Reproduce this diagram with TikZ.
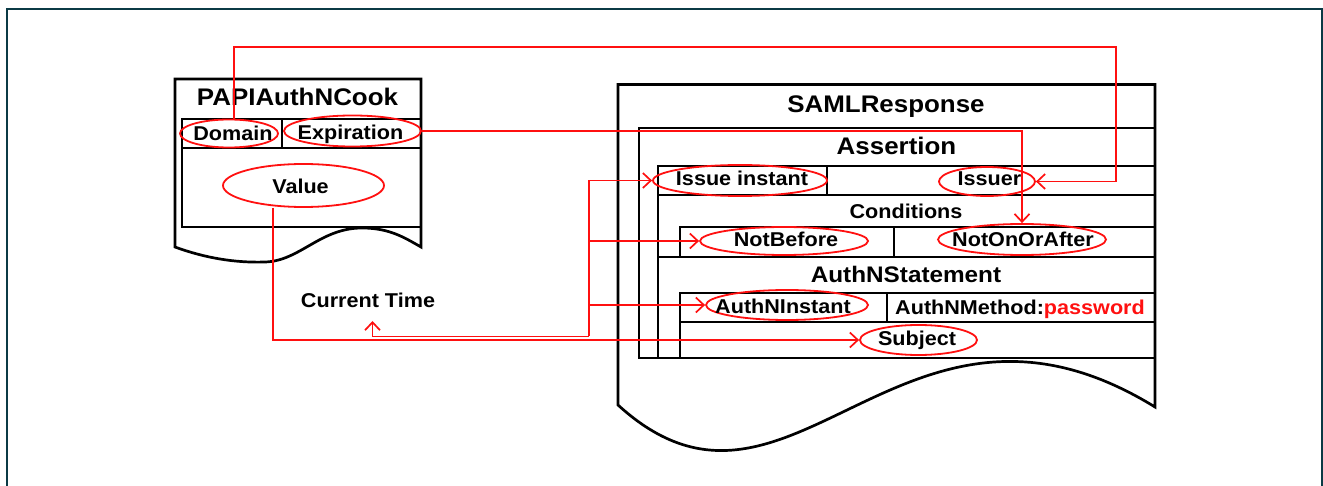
\documentclass[tikz,border=0pt]{standalone}
\usepackage{fontspec}
\setmainfont{Liberation Sans}[FakeStretch=1.08]
\usetikzlibrary{arrows.meta,shapes.geometric,calc}
\definecolor{framec}{HTML}{0B3A45}
\definecolor{lred}{HTML}{FF1010}
\newcommand\myfs[1]{\fontsize{#1}{#1}\selectfont\bfseries}
\tikzset{
  box/.style={line width=2.7pt, draw=black, line join=miter},
  oval/.style={ellipse, draw=lred, line width=1.8pt, inner sep=0pt},
  lbl/.style={font=\myfs{20}, inner sep=0pt, text height=14pt, text depth=0pt},
  ttl/.style={font=\myfs{24}, inner sep=0pt, text height=17pt, text depth=0pt},
  link/.style={draw=lred, line width=1.7pt},
  tipline/.style={link, -{Straight Barb[length=8pt,width=15pt]}},
}
\begin{document}
\begin{tikzpicture}[x=1pt,y=-1pt]
\useasboundingbox (0,0) rectangle (1323,486);
\draw[framec, line width=2pt] (7,486) -- (7,9.5) -- (1321.5,9.5) -- (1321.5,486);

% PAPIAuthNCook document
\draw[box] (175,247) -- (175,79) -- (421,79) -- (421,247)
  .. controls (405,238) and (390,228) .. (362,228)
  .. controls (320,228) and (300,261) .. (265,262)
  .. controls (235,263) and (205,258) .. (175,247) -- cycle;
\draw[box] (182,119) rectangle (421,227);
\draw[box] (182,148) -- (421,148);
\draw[box] (282,119) -- (282,148);

% SAMLResponse document
\draw[box] (618,405) -- (618,84.5) -- (1155,84.5) -- (1155,407)
  .. controls (900,250) and (790,562) .. (618,405) -- cycle;
\draw[box] (639,128) rectangle (1155,358);
\draw[box] (658,166) rectangle (1155,195);
\draw[box] (827,166) -- (827,195);
\draw[box] (658,195) rectangle (1155,257);
\draw[box] (680,227) rectangle (1155,257);
\draw[box] (894,227) -- (894,257);
\draw[box] (658,257) rectangle (1155,358);
\draw[box] (680,293) rectangle (1155,322);
\draw[box] (887,293) -- (887,322);
\draw[box] (680,322) rectangle (1155,358);

% ellipses
\node[oval, minimum width=98pt,  minimum height=28pt] (dom)  at (229,133.5) {};
\node[oval, minimum width=137pt, minimum height=31pt] (exp)  at (352.5,131) {};
\node[oval, minimum width=161pt, minimum height=43pt] (val)  at (303.5,185.5) {};
\node[oval, minimum width=174pt, minimum height=31pt] (ii)   at (740,180.5) {};
\node[oval, minimum width=96pt,  minimum height=29pt] (iss)  at (987,181.5) {};
\node[oval, minimum width=168pt, minimum height=28pt] (nb)   at (784,241) {};
\node[oval, minimum width=168pt, minimum height=31pt] (noa)  at (1022,239.5) {};
\node[oval, minimum width=162pt, minimum height=30pt] (ai)   at (787,305) {};
\node[oval, minimum width=117pt, minimum height=30pt] (subj) at (918.5,340) {};

% texts
\node[ttl] (tpapi) at (297.5,97) {PAPIAuthNCook};
\node[lbl] (tdom) at (233,133.5) {Domain};
\node[lbl] (texp) at (350.5,133) {Expiration};
\node[lbl] (tval) at (300.5,186.5) {Value};
\node[lbl] (ct) at (368,301) {Current Time};
\node[ttl] (tsaml) at (886,104) {SAMLResponse};
\node[ttl] (tass) at (896.5,146.5) {Assertion};
\node[lbl] (tii) at (742,179) {Issue instant};
\node[lbl] (tiss) at (989.5,179) {Issuer};
\node[lbl] (tcond) at (906,212) {Conditions};
\node[lbl] (tnb) at (786,240) {NotBefore};
\node[lbl] (tnoa) at (1023,240) {NotOnOrAfter};
\node[font=\myfs{22.5}, inner sep=0pt, text height=16pt, text depth=0pt] (tauth) at (906,275) {AuthNStatement};
\node[lbl] (tai) at (783,306.5) {AuthNInstant};
\node[lbl] (tam) at (1020,307.5) {AuthNMethod:\textcolor{lred}{password}};
\node[lbl] (tsubj) at (917,339) {Subject};

% connectors
\coordinate (k1) at (1116,47);
\draw[tipline] ([xshift=5pt]dom.north) |- (k1) |- (iss.east);
\draw[tipline] (exp.east) -| (noa.north);
\draw[tipline] ([xshift=-30.5pt]val.south) |- (subj.west);

\coordinate (j) at (589,336.5);
\coordinate (cta) at (372.5,321);
\draw[link] (j |- ii.west) -- (j);
\draw[tipline] (j) -| (cta);
\draw[tipline] (j |- ii.west) -- (ii.west);
\draw[tipline] (j |- nb.west) -- (nb.west);
\draw[tipline] (j |- ai.west) -- (ai.west);
\end{tikzpicture}
\end{document}
